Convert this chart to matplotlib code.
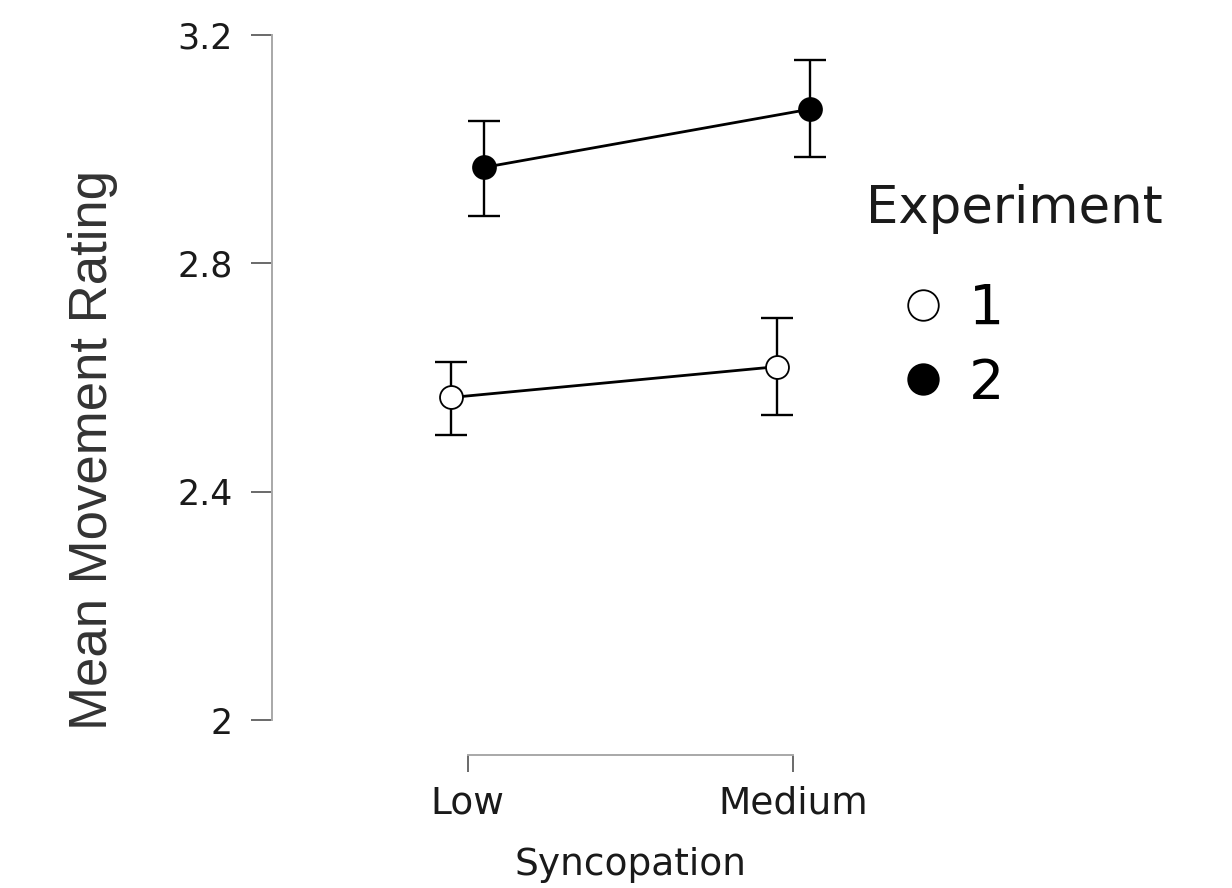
import matplotlib
matplotlib.use('Agg')
import matplotlib.pyplot as plt
from matplotlib.lines import Line2D

syncopation = ['Low', 'Medium']
experiments = ['1', '2']
# means and error bar ends
exp1_mean = [2.565, 2.619]
exp1_low = [2.500, 2.534]
exp1_high = [2.627, 2.705]
exp2_mean = [2.968, 3.070]
exp2_low = [2.883, 2.986]
exp2_high = [3.050, 3.156]

yticks = [2, 2.4, 2.8, 3.2]
ytick_labels = ['2', '2.4', '2.8', '3.2']

dodge = 0.05
spine_col = '#a8a8a8'
tick_col = '#505050'

fig = plt.figure(figsize=(12.32, 8.88), dpi=100)
ax = fig.add_axes([272 / 1232, 168 / 888, 717 / 1232, 685 / 888])

pos = list(range(len(syncopation)))
series = [
    (exp1_mean, exp1_low, exp1_high, 'white', -dodge),
    (exp2_mean, exp2_low, exp2_high, 'black', dodge),
]
for mean, lo, hi, face, off in series:
    x = [p + off for p in pos]
    err = [[m - l for m, l in zip(mean, lo)], [h - m for m, h in zip(mean, hi)]]
    ax.errorbar(x, mean, yerr=err, fmt='none', ecolor='black', elinewidth=1.7,
                capsize=11.5, capthick=1.7, zorder=2)
    ax.plot(x, mean, '-', color='black', lw=2.0, zorder=3)
    ax.plot(x, mean, 'o', ms=16.5, mfc=face, mec='black', mew=1.3, zorder=4)

ax.set_xlim(-0.6, 1.6)
ax.set_ylim(2, 3.2)
ax.set_xticks(pos)
ax.set_xticklabels(syncopation)
ax.set_yticks(yticks)
ax.set_yticklabels(ytick_labels)

for s in ['top', 'right']:
    ax.spines[s].set_visible(False)
ax.spines['left'].set_bounds(2, 3.2)
ax.spines['bottom'].set_bounds(0, 1)
ax.spines['bottom'].set_position(('outward', 25.2))
for s in ['left', 'bottom']:
    ax.spines[s].set_color(spine_col)
    ax.spines[s].set_linewidth(1.4)

ax.tick_params(axis='y', direction='out', length=15, width=1.2, color=tick_col,
               labelsize=25, labelcolor='#1a1a1a', pad=13)
ax.tick_params(axis='x', direction='out', length=12, width=1.2, color=tick_col,
               labelsize=27, labelcolor='#1a1a1a', pad=10)

ax.set_xlabel('Syncopation', fontsize=27, color='#1a1a1a', labelpad=18)
ax.set_ylabel('Mean Movement Rating', fontsize=38, family='Liberation Sans',
              color='#333333')
ax.yaxis.set_label_coords(-0.215, 0.394)

fig.text(866 / 1232, 1 - 184 / 888, 'Experiment', fontsize=37, color='#1a1a1a',
         ha='left', va='top')
handles = [
    Line2D([], [], ls='none', marker='o', ms=22, mfc='white', mec='black', mew=1.3),
    Line2D([], [], ls='none', marker='o', ms=22, mfc='black', mec='black', mew=1.3),
]
fig.legend(handles, experiments, loc='upper left',
           bbox_to_anchor=(872 / 1232, 1 - 282 / 888), frameon=False,
           fontsize=40, handlelength=1.84, handletextpad=-0.1,
           labelspacing=0.37, borderpad=0, borderaxespad=0)

plt.savefig('out.png', dpi=100)
